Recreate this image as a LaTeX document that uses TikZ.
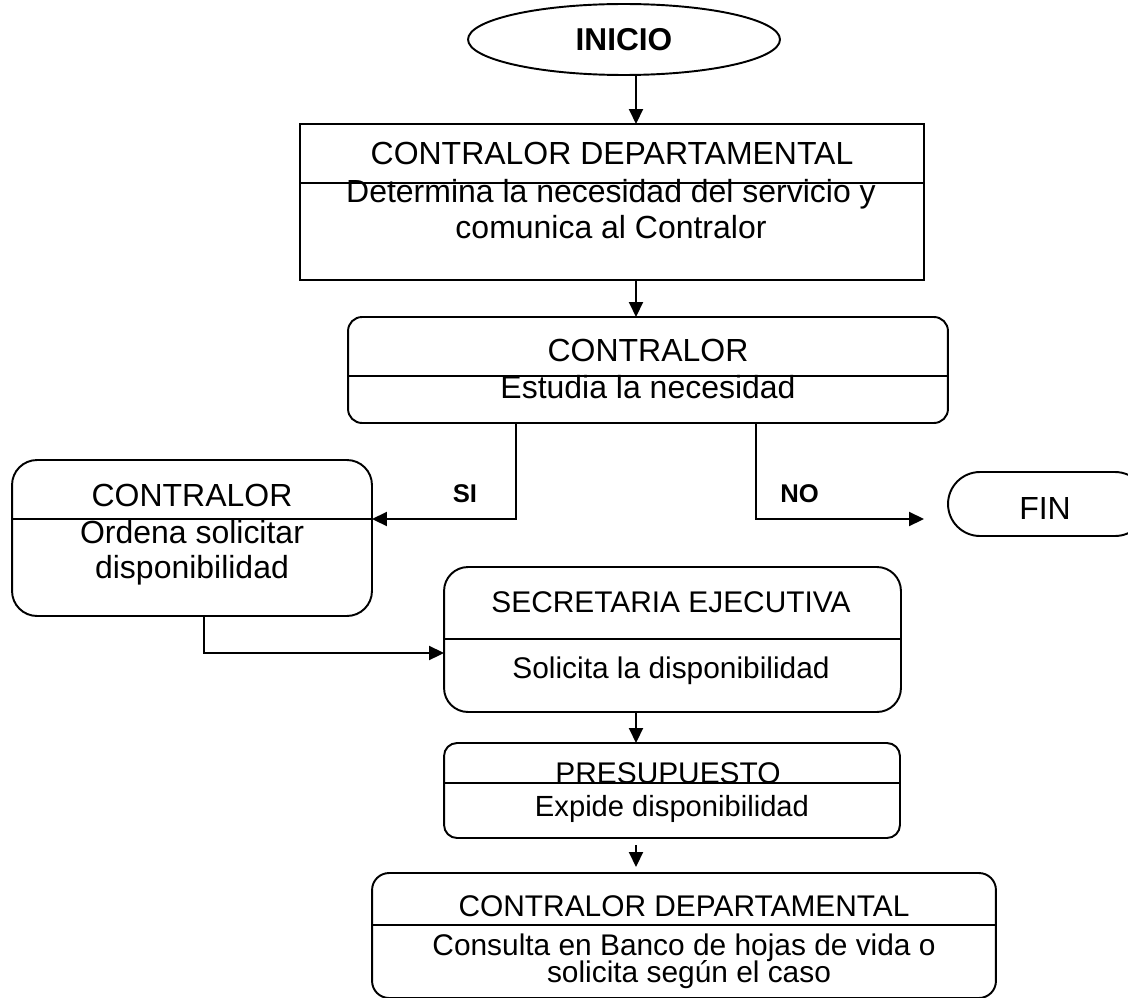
\documentclass[tikz,border=0pt]{standalone}
\usepackage{fontspec}
\setmainfont{Liberation Sans}
\usetikzlibrary{shapes.geometric,arrows.meta}
\begin{document}
\begin{tikzpicture}[x=0.02cm,y=-0.02cm,
  line width=1.1pt,
  every node/.style={inner sep=0pt, outer sep=0pt},
  box/.style={draw, line width=1.1pt, rectangle},
  txt/.style={anchor=base, font=\fontsize{17}{20}\selectfont},
  txtL/.style={anchor=base, font=\fontsize{18.2}{21}\selectfont},
  lbl/.style={anchor=base, font=\fontsize{14.6}{17}\selectfont\bfseries},
  arr/.style={-{Triangle[length=0.3cm,width=0.28cm]}}]

\useasboundingbox (0,0) rectangle (1128,997);
\clip (0,0) rectangle (1128,997);

% helper coordinates for connector columns and rows
\coordinate (sp)   at (636,0);
\coordinate (siX)  at (516,0);
\coordinate (noX)  at (756,0);
\coordinate (b3X)  at (204,0);
\coordinate (rowA) at (0,519);
\coordinate (rowB) at (0,653);

% start
\node[draw, ellipse, line width=1.1pt, minimum width=6.24cm, minimum height=1.42cm,
      font=\fontsize{18}{21}\selectfont\bfseries] (inicio) at (624,39.5) {INICIO};

% step 1
\node[box, minimum width=12.48cm, minimum height=3.12cm] (b1) at (612,202) {};
\draw (b1.west |- 0,183) -- (b1.east |- 0,183);
\node[txtL] (b1t) at (612,164) {CONTRALOR DEPARTAMENTAL};
\node[txtL] (b1a) at (611,202) {Determina la necesidad del servicio y};
\node[txtL] (b1b) at (611,238) {comunica al Contralor};

% step 2
\node[box, rounded corners=0.28cm, minimum width=12.0cm, minimum height=2.12cm] (b2) at (648,370) {};
\draw (b2.west |- 0,376) -- (b2.east |- 0,376);
\node[txtL] (b2t) at (648,361) {CONTRALOR};
\node[txtL] (b2a) at (648,398) {Estudia la necesidad};

% branch SI
\node[box, rounded corners=0.5cm, minimum width=7.2cm, minimum height=3.12cm] (b3) at (192,538) {};
\draw (b3.west |- rowA) -- (b3.east |- rowA);
\node[txtL] (b3t) at (192,506) {CONTRALOR};
\node[txtL] (b3a) at (192,543) {Ordena solicitar};
\node[txtL] (b3b) at (192,578) {disponibilidad};

% branch NO
\node[box, rounded corners=0.64cm, minimum width=3.98cm, minimum height=1.28cm] (fin) at (1047.5,504) {};
\node[txtL] (fint) at (1045,519) {FIN};

% secretaria
\node[box, rounded corners=0.48cm, minimum width=9.14cm, minimum height=2.9cm] (sec) at (672.5,639.5) {};
\draw (sec.west |- 0,639) -- (sec.east |- 0,639);
\node[txt] (sect) at (671,612) {SECRETARIA EJECUTIVA};
\node[txt] (seca) at (671,678) {Solicita la disponibilidad};

% presupuesto
\node[box, rounded corners=0.26cm, minimum width=9.12cm, minimum height=1.9cm] (pres) at (672,790.5) {};
\draw (pres.west |- 0,783) -- (pres.east |- 0,783);
\node[txt] (prest) at (668,783) {PRESUPUESTO};
\node[txt, font=\fontsize{16.6}{19}\selectfont] (presa) at (672,816) {Expide disponibilidad};

% final step
\node[box, rounded corners=0.34cm, minimum width=12.48cm, minimum height=2.5cm] (b4) at (684,935.5) {};
\draw (b4.west |- 0,925) -- (b4.east |- 0,925);
\node[txt] (b4t) at (684,916) {CONTRALOR DEPARTAMENTAL};
\node[txt] (b4a) at (684,955) {Consulta en Banco de hojas de vida o};
\node[txt] (b4b) at (689,982) {solicita según el caso};

% decision labels
\node[lbl] (si) at (465,502) {SI};
\node[lbl] (no) at (799.5,502) {NO};

% connectors
\draw[arr] (inicio.south -| sp) -- (b1.north -| sp);
\draw[arr] (b1.south -| sp) -- (b2.north -| sp);
\draw[arr] (b2.south -| siX) |- (b3.east |- rowA);
\draw[arr, shorten >=0.48cm] (b2.south -| noX) |- (fin.west |- rowA);
\draw[arr] (b3.south -| b3X) |- (sec.west |- rowB);
\draw[arr] (sec.south -| sp) -- (pres.north -| sp);
\draw[arr, shorten <=0.14cm, shorten >=0.12cm] (pres.south -| sp) -- (b4.north -| sp);

\end{tikzpicture}
\end{document}
